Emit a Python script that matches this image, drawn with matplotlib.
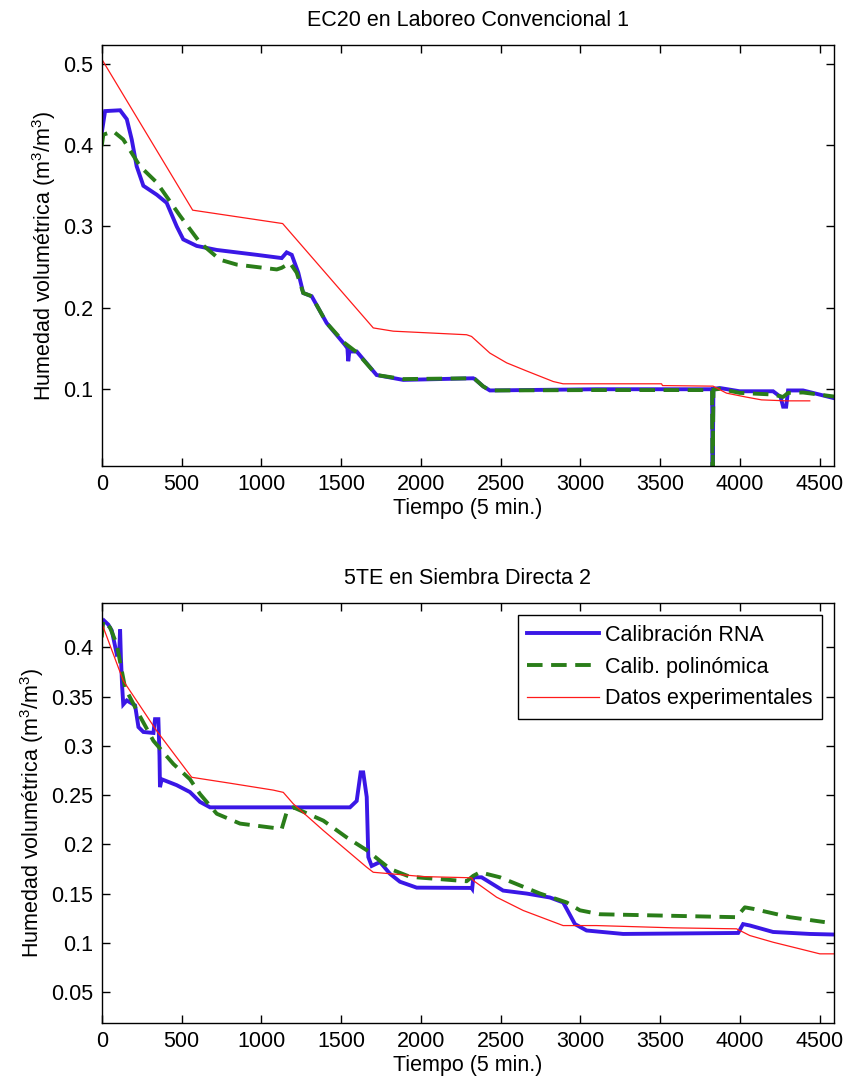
import matplotlib
matplotlib.use("Agg")
import matplotlib.pyplot as plt

plt.rcParams["font.family"] = ["Liberation Sans", "DejaVu Sans"]
plt.rcParams["mathtext.fontset"] = "custom"
plt.rcParams["mathtext.rm"] = "Liberation Sans"
plt.rcParams["mathtext.it"] = "Liberation Sans"

# ---------------- DATA ----------------
titles = ["EC20 en Laboreo Convencional 1", "5TE en Siembra Directa 2"]
series_names = ["Calibración RNA", "Calib. polinómica", "Datos experimentales"]
x_ticks = [0, 500, 1000, 1500, 2000, 2500, 3000, 3500, 4000, 4500]
top_yticks = [0.1, 0.2, 0.3, 0.4, 0.5]
bot_yticks = [0.05, 0.1, 0.15, 0.2, 0.25, 0.3, 0.35, 0.4]

# panel 1: EC20
top_rna_x = [0, 21, 115, 157, 188, 219, 261, 345, 407, 470, 511, 595, 721, 971, 1128, 1159,
             1191, 1232, 1263, 1316, 1410, 1525, 1540, 1545, 1552, 1598, 1723, 1890, 2328,
             2339, 2391, 2433, 3100, 3826, 3828, 3830, 3834, 3874, 3999, 4208, 4255, 4271,
             4290, 4302, 4396, 4590]
top_rna_y = [0.415, 0.442, 0.443, 0.432, 0.407, 0.374, 0.350, 0.339, 0.329, 0.300, 0.284,
             0.276, 0.271, 0.265, 0.261, 0.268, 0.265, 0.243, 0.218, 0.214, 0.181, 0.154,
             0.150, 0.134, 0.146, 0.146, 0.117, 0.111, 0.113, 0.112, 0.103, 0.098, 0.0995,
             0.0995, 0.005, 0.005, 0.100, 0.101, 0.097, 0.097, 0.090, 0.078, 0.078, 0.098,
             0.098, 0.0885]

top_poly_x = [0, 10, 73, 135, 240, 345, 491, 616, 741, 846, 1097, 1128, 1180, 1222, 1263,
              1316, 1410, 1525, 1598, 1723, 1890, 2328, 2339, 2391, 2433, 3100, 3826, 3828,
              3830, 3834, 3874, 3999, 4208, 4271, 4302, 4396, 4590]
top_poly_y = [0.399, 0.413, 0.417, 0.407, 0.374, 0.354, 0.313, 0.280, 0.259, 0.253, 0.247,
              0.249, 0.255, 0.243, 0.218, 0.214, 0.181, 0.156, 0.145, 0.117, 0.112, 0.113,
              0.112, 0.103, 0.098, 0.0985, 0.0985, 0.005, 0.005, 0.099, 0.100, 0.095, 0.093,
              0.090, 0.095, 0.0955, 0.0905]

top_exp_x = [0, 570, 1134, 1702, 1827, 2287, 2318, 2433, 2538, 2663, 2830, 2892, 3509,
             3515, 3832, 3916, 4041, 4136, 4292, 4438]
top_exp_y = [0.506, 0.320, 0.3035, 0.175, 0.171, 0.1666, 0.1645, 0.144, 0.132, 0.122,
             0.109, 0.1062, 0.1062, 0.104, 0.1033, 0.0947, 0.0898, 0.0864, 0.0852, 0.0852]

# panel 2: 5TE
bot_rna_x = [0, 15, 41, 63, 94, 110, 115, 120, 128, 135, 157, 209, 230, 261, 324, 334, 355,
             362, 365, 376, 470, 553, 616, 679, 1556, 1598, 1623, 1639, 1661, 1671, 1692,
             1744, 1807, 1869, 1974, 2318, 2322, 2329, 2381, 2516, 2663, 2809, 2892, 2966,
             3039, 3268, 3989, 4020, 4062, 4208, 4438, 4590]
bot_rna_y = [0.423, 0.427, 0.423, 0.417, 0.393, 0.395, 0.418, 0.390, 0.360, 0.342, 0.346,
             0.341, 0.319, 0.314, 0.313, 0.327, 0.327, 0.290, 0.258, 0.266, 0.260, 0.253,
             0.243, 0.2375, 0.2375, 0.244, 0.273, 0.273, 0.248, 0.187, 0.178, 0.182, 0.170,
             0.162, 0.156, 0.1557, 0.1548, 0.1665, 0.1665, 0.153, 0.150, 0.146, 0.141,
             0.119, 0.1125, 0.109, 0.110, 0.119, 0.1176, 0.111, 0.109, 0.1084]

bot_poly_x = [0, 10, 52, 94, 146, 219, 324, 449, 553, 616, 721, 867, 1128, 1159, 1201,
              1389, 1535, 1661, 1807, 1932, 2287, 2329, 2371, 2496, 2747, 2914, 2997, 3122,
              3979, 4031, 4083, 4313, 4532]
bot_poly_y = [0.410, 0.427, 0.420, 0.403, 0.359, 0.336, 0.305, 0.2815, 0.266, 0.251, 0.231,
              0.221, 0.2156, 0.2325, 0.2375, 0.224, 0.207, 0.194, 0.175, 0.167, 0.1625,
              0.168, 0.1716, 0.1665, 0.150, 0.141, 0.133, 0.129, 0.126, 0.136, 0.1345,
              0.126, 0.121]

bot_exp_x = [0, 135, 345, 564, 804, 1075, 1138, 1201, 1389, 1661, 1702, 2015, 2318, 2329,
             2475, 2642, 2892, 3101, 3582, 3979, 4062, 4208, 4375, 4501, 4590]
bot_exp_y = [0.4245, 0.366, 0.315, 0.268, 0.262, 0.255, 0.2527, 0.241, 0.214, 0.1767,
             0.1716, 0.1672, 0.166, 0.1632, 0.1463, 0.1328, 0.1175, 0.1175, 0.1152, 0.1142,
             0.1074, 0.1006, 0.0939, 0.0888, 0.0888]

# ---------------- STYLE ----------------
blue = "#3a17e6"
green = "#2a7d19"
red = "#ff1a1a"
fs = 15.5

fig = plt.figure(figsize=(8.45, 10.89), dpi=100)
ax1 = fig.add_axes([0.1204, 0.5721, 0.8666, 0.3866])
ax2 = fig.add_axes([0.1204, 0.0606, 0.8666, 0.3854])

panels = [
    (ax1, top_rna_x, top_rna_y, top_poly_x, top_poly_y, top_exp_x, top_exp_y,
     (0.005, 0.5234), top_yticks, ["0.1", "0.2", "0.3", "0.4", "0.5"]),
    (ax2, bot_rna_x, bot_rna_y, bot_poly_x, bot_poly_y, bot_exp_x, bot_exp_y,
     (0.0186, 0.4446), bot_yticks,
     ["0.05", "0.1", "0.15", "0.2", "0.25", "0.3", "0.35", "0.4"]),
]

for i, (ax, rx, ry, px, py, ex, ey, ylim, yt, ytl) in enumerate(panels):
    ax.plot(rx, ry, color=blue, lw=2.8, label=series_names[0], solid_joinstyle="miter")
    ax.plot(px, py, color=green, lw=2.8, dashes=(4, 2.2), label=series_names[1])
    ax.plot(ex, ey, color=red, lw=0.9, label=series_names[2])
    ax.set_xlim(0, 4590)
    ax.set_ylim(*ylim)
    ax.set_xticks(x_ticks)
    ax.set_xticklabels([str(t) for t in x_ticks], fontsize=fs)
    ax.set_yticks(yt)
    ax.set_yticklabels(ytl, fontsize=fs)
    ax.tick_params(direction="in", length=6, width=1, top=True, right=True, pad=6)
    for s in ax.spines.values():
        s.set_linewidth(1)
    ax.set_title(titles[i], fontsize=fs, pad=14)
    ax.set_xlabel("Tiempo (5 min.)", fontsize=fs, labelpad=2)
    ax.set_ylabel(r"Humedad volumétrica (m$^3$/m$^3$)", fontsize=fs, labelpad=4)

leg = ax2.legend(loc="upper right", fontsize=fs, fancybox=False, framealpha=1,
                 edgecolor="black", borderaxespad=0.55, handlelength=3.3,
                 handletextpad=0.3, labelspacing=0.5, borderpad=0.45)
leg.get_frame().set_linewidth(1)

fig.savefig("out.png", dpi=100)
